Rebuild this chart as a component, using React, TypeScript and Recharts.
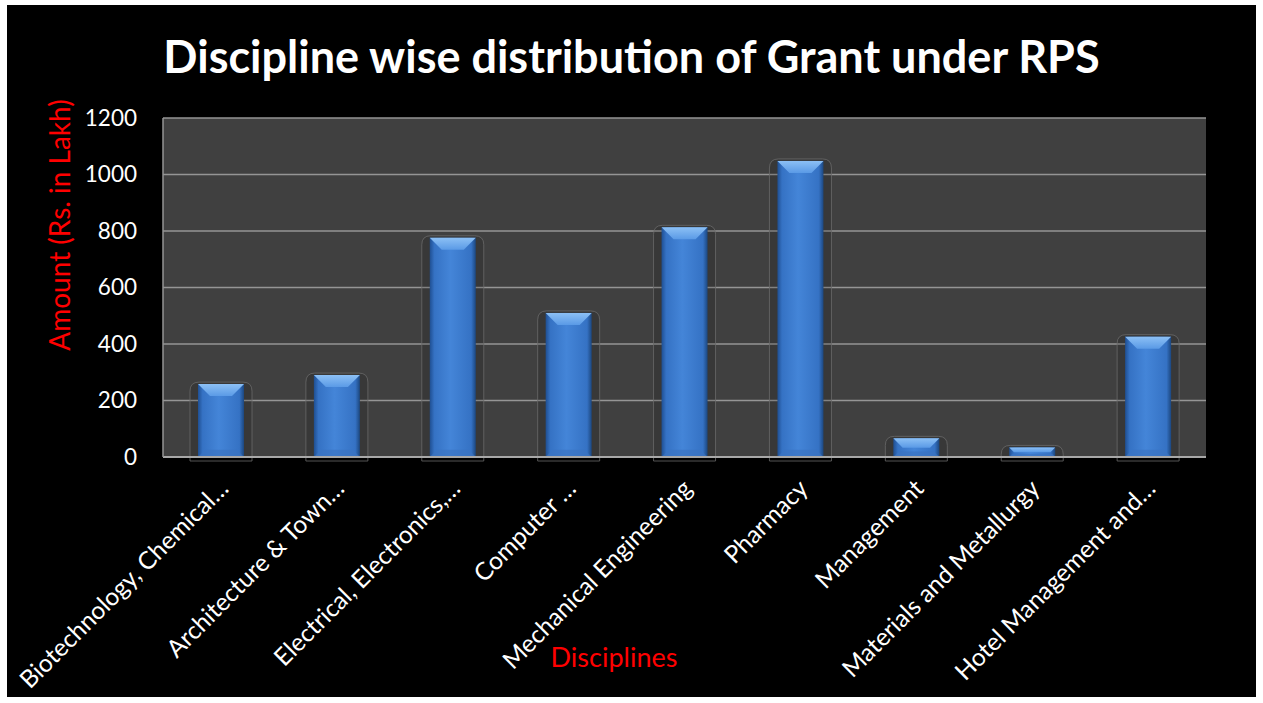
import { Bar, BarChart, CartesianGrid, XAxis, YAxis } from 'recharts';

const disciplines = [
  'Biotechnology, Chemical…',
  'Architecture & Town…',
  'Electrical, Electronics,…',
  'Computer …',
  'Mechanical Engineering',
  'Pharmacy',
  'Management',
  'Materials and Metallurgy',
  'Hotel Management and…',
];

const amounts = [258, 290, 776, 510, 813, 1048, 66, 34, 426];

const yTicks = [0, 200, 400, 600, 800, 1000, 1200];

const data = disciplines.map((name, i) => ({ name, amount: amounts[i] }));

const FONT = 'Lato, "Open Sans", sans-serif';

// bevelled bar like the Office 2007 "3D" style, with the faint halo around it
function BevelBar(props: any) {
  const { x, y, width, height } = props;
  if (!height || height <= 0) return null;
  const bevel = Math.min(12, height / 2);
  const r = 9;
  const hx = x - 8;
  const hw = width + 16;
  const hy = y - 2;
  const hb = y + height + 4;
  return (
    <g>
      <path
        d={`M${hx},${hb} L${hx},${hy + r} Q${hx},${hy} ${hx + r},${hy} L${hx + hw - r},${hy} Q${hx + hw},${hy} ${hx + hw},${hy + r} L${hx + hw},${hb} Z`}
        fill="rgba(0,0,0,0.12)"
        stroke="#6a6a6a"
        strokeWidth={0.8}
      />
      <rect x={x} y={y} width={width} height={height} fill="url(#barBody)" />
      <polygon
        points={`${x},${y} ${x + width},${y} ${x + width - bevel},${y + bevel} ${x + bevel},${y + bevel}`}
        fill="url(#barTop)"
      />
      <polygon
        points={`${x},${y + height} ${x + width},${y + height} ${x + width - bevel * 0.6},${y + height - bevel * 0.6} ${x + bevel * 0.6},${y + height - bevel * 0.6}`}
        fill="#3a74c2"
        opacity={0.7}
      />
    </g>
  );
}

function DisciplineTick(props: any) {
  const { x, y, payload } = props;
  const ax = x + 9;
  const ay = y + 25;
  return (
    <text
      x={ax}
      y={ay}
      textAnchor="end"
      fill="#ffffff"
      fontSize={24.5}
      fontFamily={FONT}
      transform={`rotate(-45, ${ax}, ${ay})`}
    >
      {payload.value}
    </text>
  );
}

export default function App() {
  return (
    <div style={{ position: 'absolute', left: 0, top: 0, width: 1263, height: 703, background: '#ffffff' }}>
      <div
        style={{
          position: 'absolute',
          left: 7,
          top: 5,
          width: 1249,
          height: 692,
          background: '#000000',
          fontFamily: FONT,
        }}
      >
        <div
          style={{
            position: 'absolute',
            left: 0,
            top: 25,
            width: 1249,
            textAlign: 'center',
            color: '#ffffff',
            fontWeight: 700,
            fontSize: 45,
            lineHeight: '52px',
          }}
        >
          Discipline wise distribution of Grant under RPS
        </div>
        <div
          style={{
            position: 'absolute',
            left: 52,
            top: 220,
            transform: 'translate(-50%, -50%) rotate(-90deg)',
            color: '#ff0000',
            fontSize: 28,
            whiteSpace: 'nowrap',
          }}
        >
          Amount (Rs. in Lakh)
        </div>
        <div
          style={{
            position: 'absolute',
            left: 607,
            top: 651,
            transform: 'translate(-50%, -50%)',
            color: '#ff0000',
            fontSize: 27,
            whiteSpace: 'nowrap',
          }}
        >
          Disciplines
        </div>
        <BarChart
          width={1249}
          height={692}
          data={data}
          margin={{ top: 113, right: 50, bottom: 0, left: 76 }}
          style={{ position: 'absolute', left: 0, top: 0 }}
        >
          <defs>
            <linearGradient id="barBody" x1="0" y1="0" x2="1" y2="0">
              <stop offset="0%" stopColor="#1f4f92" />
              <stop offset="10%" stopColor="#3572c4" />
              <stop offset="45%" stopColor="#4485d8" />
              <stop offset="90%" stopColor="#3572c4" />
              <stop offset="100%" stopColor="#1c477f" />
            </linearGradient>
            <linearGradient id="barTop" x1="0" y1="0" x2="0" y2="1">
              <stop offset="0%" stopColor="#8cc0f5" />
              <stop offset="100%" stopColor="#5a9ae6" />
            </linearGradient>
          </defs>
          <CartesianGrid vertical={false} fill="#404040" stroke="#959595" strokeWidth={1.5} />
          <XAxis
            dataKey="name"
            interval={0}
            tickLine={false}
            axisLine={{ stroke: '#a8a8a8', strokeWidth: 2 }}
            tick={<DisciplineTick />}
            height={240}
          />
          <YAxis
            domain={[0, 1200]}
            ticks={yTicks}
            width={80}
            tickLine={false}
            tickSize={0}
            tickMargin={26}
            axisLine={{ stroke: '#959595', strokeWidth: 1.5 }}
            tick={{ fill: '#ffffff', fontSize: 22.5, fontFamily: FONT }}
          />
          <Bar dataKey="amount" barSize={46} shape={<BevelBar />} isAnimationActive={false} />
        </BarChart>
      </div>
    </div>
  );
}
